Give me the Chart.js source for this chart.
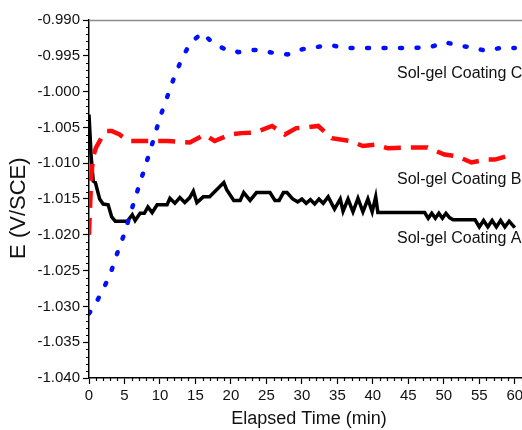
<!DOCTYPE html>
<html>
<head>
<meta charset="utf-8">
<script src="https://cdn.jsdelivr.net/npm/chart.js@4/dist/chart.umd.min.js"></script>
<style>
  html, body { margin: 0; padding: 0; background: #fff; overflow: hidden; }
  #wrap { width: 545px; height: 430px; }
</style>
</head>
<body>
<div id="wrap"><canvas id="c" width="545" height="430"></canvas></div>
<script>
// ---- Data ----
const xTickValues = [0, 5, 10, 15, 20, 25, 30, 35, 40, 45, 50, 55, 60];
const yTickValues = [-1.040, -1.035, -1.030, -1.025, -1.020, -1.015, -1.010, -1.005, -1.000, -0.995, -0.990];

const seriesNames = ['Sol-gel Coating A', 'Sol-gel Coating B', 'Sol-gel Coating C'];

// Coating A (black solid)
const timesA = [0, 0.3, 0.6, 0.9, 1.5, 2.0, 2.7, 3.2, 3.7, 5.4, 6.1, 6.5, 7.2, 7.8, 8.3, 8.9, 9.6, 11.0, 11.4,
  12.1, 12.8, 13.5, 14.2, 14.7, 15.2, 16.1, 17.0, 18.3, 19.0, 19.4, 20.4, 21.3, 21.8, 22.7, 23.6, 25.5, 26.2, 26.8,
  27.4, 27.9, 28.7, 29.4, 30.0, 30.6, 31.2, 31.8, 32.4, 33.0, 33.7, 34.6, 35.4, 35.8, 36.5, 37.2, 37.9, 38.6, 39.3,
  39.9, 40.4, 40.7, 47.3, 47.8, 48.3, 48.8, 49.3, 49.8, 50.3, 50.8, 51.3, 54.4, 55.0, 55.6, 56.2, 56.8, 57.4, 58.0,
  58.6, 59.2, 60.0];
const valuesA = [-1.0032, -1.0090, -1.0125, -1.0127, -1.0150, -1.0157, -1.0158, -1.0175, -1.0181, -1.0181, -1.0172,
  -1.0180, -1.0170, -1.0170, -1.0161, -1.0169, -1.0158, -1.0158, -1.0149,
  -1.0156, -1.0148, -1.0155, -1.0148, -1.0139, -1.0155, -1.0147, -1.0147, -1.0134, -1.0127, -1.0137, -1.0152, -1.0152,
  -1.0141, -1.0152, -1.0141, -1.0141, -1.0152, -1.0152,
  -1.0141, -1.0141, -1.0150, -1.0154, -1.0150, -1.0156, -1.0151, -1.0157, -1.0150, -1.0156, -1.0147, -1.0164, -1.0150,
  -1.0167, -1.0150, -1.0168, -1.0149, -1.0168, -1.0150, -1.0168, -1.0147, -1.0169, -1.0169, -1.0177, -1.0170, -1.0177,
  -1.0170, -1.0177, -1.0170, -1.0176, -1.0179, -1.0179, -1.0189, -1.0180, -1.0189, -1.0180, -1.0189, -1.0180,
  -1.0189, -1.0181, -1.0190];

// Coating B (red dashed)
const timesB = [0, 0.15, 0.35, 0.6, 1.0, 1.8, 2.5, 3.2, 4.3, 5.5, 8.6, 11.1, 12.5, 14.2, 16.3, 17.7, 19.9, 21.5,
  23.4, 25.8, 27.6, 29.2, 30.7, 32.3, 34.2, 36.8, 38.6, 40.3, 42.1, 44.9, 47.7, 50.1, 51.8, 53.9, 55.8, 57.2, 59.6, 60.0];
const valuesB = [-1.0200, -1.0160, -1.0115, -1.0090, -1.0078, -1.0064, -1.0055, -1.0055, -1.0060, -1.0069, -1.0069,
  -1.0069, -1.0070, -1.0071, -1.0060, -1.0069, -1.0060, -1.0058, -1.0057, -1.0048, -1.0060, -1.0051, -1.0050,
  -1.0048, -1.0065, -1.0069, -1.0076, -1.0074, -1.0079, -1.0078, -1.0078, -1.0088, -1.0090, -1.0099, -1.0095,
  -1.0095, -1.0088, -1.0087];

// Coating C (blue dotted)
const timesC = [0, 1, 2, 3, 4, 5, 6, 7, 8, 9, 10, 11, 12, 13, 14, 15, 16, 17, 18, 19, 20, 21, 22, 23, 24, 25, 26,
  27, 28, 29, 30, 31, 32, 33, 34, 35, 36, 38, 40, 42, 44, 46, 48, 49, 50, 51, 52, 53, 54, 55, 56, 57, 58, 60];
const valuesC = [-1.0310, -1.0295, -1.0276, -1.0255, -1.0225, -1.0198, -1.0165, -1.0133, -1.0102, -1.0070, -1.0036,
  -1.0008, -0.9980, -0.9956, -0.9937, -0.9926, -0.9918, -0.9928, -0.9935, -0.9940, -0.9940, -0.9945, -0.9944,
  -0.9942, -0.9942, -0.9944, -0.9946, -0.9947, -0.9948, -0.9946, -0.9941, -0.9939, -0.9938, -0.9936, -0.9935,
  -0.9937, -0.9939, -0.9939, -0.9939, -0.9939, -0.9939, -0.9939, -0.9938, -0.9935, -0.9931, -0.9933, -0.9936,
  -0.9937, -0.9938, -0.9941, -0.9943, -0.9941, -0.9939, -0.9939];

// Annotation anchors (data coordinates): [time, potential]
const labelTimes = [43.4, 43.4, 43.4];
const labelValues = [-1.0205, -1.0123, -0.9975];

const FONT = "Arial, 'Liberation Sans', sans-serif";

function pairs(ts, vs) { return ts.map((t, i) => ({ x: t, y: vs[i] })); }

const minorTicks = {
  id: 'minorTicks',
  afterDraw(chart) {
    const { ctx, chartArea, scales } = chart;
    const xs = scales.x, ys = scales.y;
    ctx.save();
    ctx.strokeStyle = '#000';
    ctx.lineWidth = 1.2;
    ctx.beginPath();
    for (let i = 0; i <= 62; i++) {
      if (i % 5 === 0) continue;
      const px = Math.round(xs.getPixelForValue(i)) + 0.5;
      ctx.moveTo(px, chartArea.bottom);
      ctx.lineTo(px, chartArea.bottom + 3);
    }
    for (let i = 0; i <= 50; i++) {
      if (i % 5 === 0) continue;
      const py = Math.round(ys.getPixelForValue(-1.040 + i * 0.001)) + 0.5;
      ctx.moveTo(chartArea.left - 3, py);
      ctx.lineTo(chartArea.left, py);
    }
    ctx.stroke();
    // frame top and right (gray)
    ctx.strokeStyle = '#8c8c8c';
    ctx.lineWidth = 1.5;
    ctx.beginPath();
    ctx.moveTo(chartArea.left, chartArea.top + 0.5);
    ctx.lineTo(chartArea.right, chartArea.top + 0.5);
    ctx.lineTo(chartArea.right, chartArea.bottom);
    ctx.stroke();
    // series labels
    ctx.fillStyle = '#111';
    ctx.font = '16px ' + FONT;
    ctx.textBaseline = 'middle';
    ctx.textAlign = 'left';
    for (let k = 0; k < seriesNames.length; k++) {
      ctx.fillText(seriesNames[k], xs.getPixelForValue(labelTimes[k]), ys.getPixelForValue(labelValues[k]));
    }
    ctx.restore();
  }
};

new Chart(document.getElementById('c'), {
  type: 'line',
  data: {
    datasets: [
      {
        label: seriesNames[2], data: pairs(timesC, valuesC),
        borderColor: '#0010ff', borderWidth: 4.5, borderDash: [2, 14.5], borderCapStyle: 'round',
        pointRadius: 0, tension: 0, fill: false
      },
      {
        label: seriesNames[1], data: pairs(timesB, valuesB),
        borderColor: '#ff0a0a', borderWidth: 4.5, borderDash: [17, 10], borderCapStyle: 'butt',
        pointRadius: 0, tension: 0, fill: false
      },
      {
        label: seriesNames[0], data: pairs(timesA, valuesA),
        borderColor: '#000000', borderWidth: 3.5, borderJoinStyle: 'miter',
        pointRadius: 0, tension: 0, fill: false
      }
    ]
  },
  options: {
    responsive: false,
    animation: false,
    devicePixelRatio: 1,
    layout: { padding: { left: 0, top: 20, right: 16, bottom: 0 } },
    plugins: { legend: { display: false }, tooltip: { enabled: false } },
    scales: {
      x: {
        type: 'linear', min: 0, max: 62,
        afterFit(s) { s.height = 52; },
        afterBuildTicks(s) { s.ticks = xTickValues.map(v => ({ value: v })); },
        border: { color: '#000', width: 1.5 },
        grid: { drawOnChartArea: false, tickLength: 6, tickColor: '#000', tickWidth: 1.2 },
        ticks: { color: '#111', font: { family: FONT, size: 15 }, padding: 3, maxRotation: 0, autoSkip: false,
          callback: v => String(v) },
        title: { display: true, text: 'Elapsed Time (min)', color: '#111', font: { family: FONT, size: 18 },
          padding: { top: 0, bottom: 0 } }
      },
      y: {
        type: 'linear', min: -1.040, max: -0.990,
        afterFit(s) { s.width = 89; },
        afterBuildTicks(s) { s.ticks = yTickValues.map(v => ({ value: v })); },
        border: { color: '#000', width: 1.5 },
        grid: { drawOnChartArea: false, tickLength: 6, tickColor: '#000', tickWidth: 1.2 },
        ticks: { color: '#111', font: { family: FONT, size: 15 }, padding: 3, autoSkip: false,
          callback: v => Number(v).toFixed(3) },
        title: { display: true, text: 'E (V/SCE)   ', color: '#111', font: { family: FONT, size: 22 },
          padding: { top: 6, bottom: 0 } }
      }
    }
  },
  plugins: [minorTicks]
});
</script>
</body>
</html>
